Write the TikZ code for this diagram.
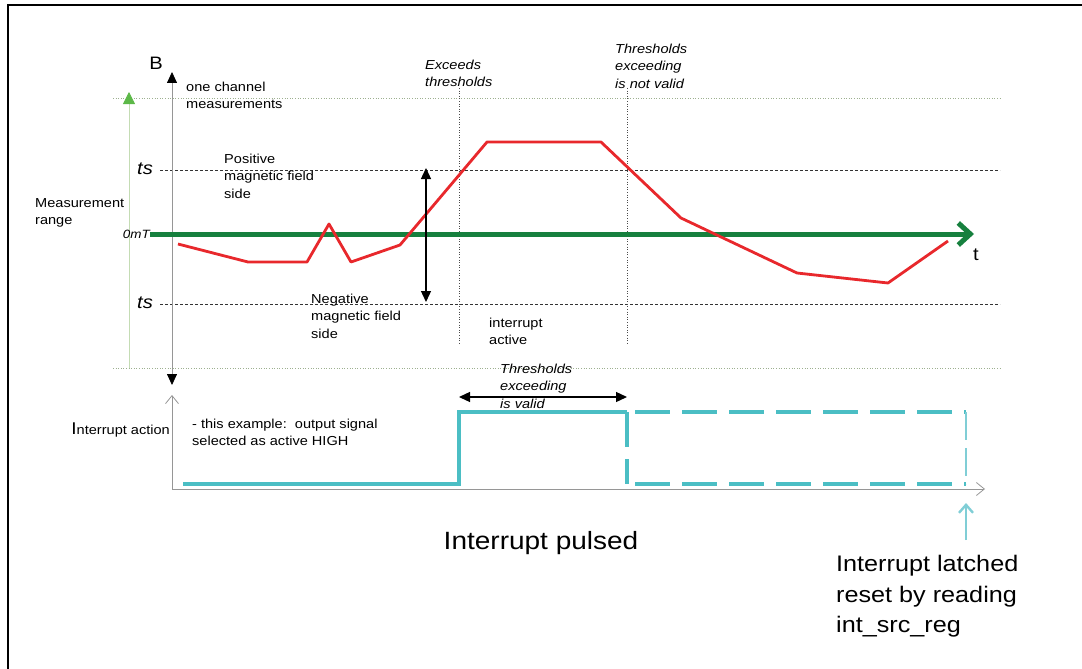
\documentclass[tikz,border=0pt]{standalone}
\usepackage{fontspec}
\setmainfont{Liberation Sans}[FakeStretch=1.12]
\usepackage{tikz}
\usetikzlibrary{arrows.meta,positioning,calc}

\definecolor{fieldred}{RGB}{232,40,44}
\definecolor{zerogreen}{RGB}{22,128,62}
\definecolor{rangegreen}{RGB}{92,184,72}
\definecolor{palegreen}{RGB}{196,220,180}
\definecolor{sigteal}{RGB}{75,190,196}
\definecolor{liteteal}{RGB}{128,206,214}
\definecolor{axisgrey}{RGB}{150,150,150}

\newcommand{\smalltxt}{\fontsize{13}{17.3}\selectfont}
\newcommand{\bigtxt}{\fontsize{22.5}{30.5}\selectfont}

\tikzset{
    bhead/.tip={Triangle[color=black,length=11pt,width=10pt]},
    ohead/.tip={Straight Barb[length=8pt,width=13pt,line width=0.8pt]}
}

\begin{document}
\begin{tikzpicture}[x=1pt,y=-1pt,
    txt/.style={inner sep=0pt,align=left,font=\smalltxt},
    itxt/.style={txt,font=\smalltxt\itshape},
    thr/.style={densely dashed,black!80,line width=0.6pt},
    limit/.style={dotted,palegreen!80!black,line width=0.6pt},
    eventline/.style={dotted,black!70,line width=0.6pt},
    sig/.style={sigteal,line width=4.6pt},
    sigdash/.style={sig,dash pattern=on 35pt off 12pt}]
\useasboundingbox (0,0) rectangle (1082,669);

% Frame
\draw[line width=2pt] (8,669) -- (8,5) -- (1082,5);

% Coordinates of the axes
\coordinate (btop) at (172,72);
\coordinate (bbot) at (172,385);
\coordinate (itop) at (172,395);
\coordinate (iorg) at (172,489);
\coordinate (iend) at (985,489);
\coordinate (rtop) at (129,92);
\coordinate (rbot) at (129,368);
\coordinate (zero) at (150,234);
\coordinate (zend) at (974,234);

% Helper lines
\foreach \y in {98,368}{
    \draw[limit] (113,\y) -- (1000,\y);
}
\foreach \y in {170,304}{
    \draw[thr] (160,\y) -- (1000,\y);
}
\foreach \x in {459,627}{
    \draw[eventline] (\x,88) -- (\x,343);
}

% Axes
\draw[axisgrey,line width=0.8pt,{bhead}-{bhead}] (btop) -- (bbot);
\draw[axisgrey,line width=0.8pt,{ohead}-{ohead}] (itop) -- (iorg) -- (iend);
\draw[palegreen,line width=0.8pt,-{Triangle[color=rangegreen,length=12pt,width=12pt]}] (rbot) -- (rtop);
\draw[zerogreen,line width=5pt,-{Straight Barb[length=12pt,width=22pt,line width=5pt]}] (zero) -- (zend);

% Labels on the B axis
\node[font=\fontsize{18}{20}\selectfont] (blab) at (156,63) {B};
\node[font=\fontsize{18}{20}\selectfont] (tlab) at (976,255) {t};
\node[txt,anchor=north west] (onech) at (186,82) {one channel\\measurements};
\node[txt,anchor=north west] (mrange) at (35,198) {Measurement\\range};
\node[font=\fontsize{18}{20}\selectfont\itshape] (tshi) at (145,169) {ts};
\node[font=\fontsize{18}{20}\selectfont\itshape] (tslo) at (145,303) {ts};
\node[inner sep=0pt,anchor=east,font=\fontsize{12}{14}\selectfont\itshape] (zlab) at (150,234) {0mT};
\node[txt,anchor=north west] (pos) at (224,154) {Positive\\magnetic field\\side};
\node[txt,anchor=north west] (neg) at (311,294) {Negative\\magnetic field\\side};
\node[txt,anchor=north west] (iact) at (489,318) {interrupt\\active};
\node[itxt,anchor=north west] (exc) at (425,60) {Exceeds\\thresholds};
\node[itxt,anchor=north west] (notv) at (615,44) {Thresholds\\exceeding\\is not valid};
\node[itxt,anchor=north west] (isv) at (500,364) {Thresholds\\exceeding\\is valid};

% Field measurement
\draw[fieldred,line width=2.8pt,line join=round] (178,244) -- (248,262) -- (307,262) -- (329,224)
    -- (351,262) -- (400,245) -- (487,142) -- (601,142) -- (681,218) -- (797,273)
    -- (888,283) -- (948,241);

% Threshold window arrows
\draw[line width=1.3pt,{Triangle[length=11pt,width=10pt]}-{Triangle[length=11pt,width=10pt]}] (426,168) -- (426,302);
\draw[line width=1.3pt,{Triangle[length=11pt,width=10pt]}-{Triangle[length=11pt,width=10pt]}] (459,397) -- (627,397);

% Interrupt signal
\coordinate (s0) at (183,484);
\coordinate (s1) at (459,484);
\coordinate (s2) at (459,412);
\coordinate (s3) at (627,412);
\coordinate (s4) at (627,484);
\coordinate (s5) at (966,412);
\coordinate (s6) at (966,484);
\draw[sig] (s0) -- (s1) -- (s2) -- (s3);
\draw[sigdash] (s3) -- (s4);
\draw[sigdash,dash phase=-8pt] (s3) -- (s5);
\draw[sigdash,dash phase=-8pt] (s4) -- (s6);
\draw[liteteal,line width=2.4pt,dash pattern=on 28pt off 8pt] (s5) -- (s6);

% Interrupt labels
\node[inner sep=0pt,anchor=east,font=\smalltxt] (ilab) at (170,430) {{\fontsize{17}{20}\selectfont I}nterrupt action};
\node[txt,anchor=north west] (note) at (192,419) {- this example:\ \ output signal\\selected as active HIGH};
\node[font=\fontsize{25}{28}\selectfont] (pulsed) at (541,543) {Interrupt pulsed};
\node[inner sep=0pt,align=left,anchor=north west,font=\bigtxt] (latched) at (836,555) {Interrupt latched\\reset by reading\\int\_src\_reg};
\coordinate (rst) at (966,503);
\draw[liteteal,line width=2.4pt,-{Straight Barb[length=8pt,width=14pt,line width=2.4pt]}] (966,540) -- (rst);

\end{tikzpicture}
\end{document}
